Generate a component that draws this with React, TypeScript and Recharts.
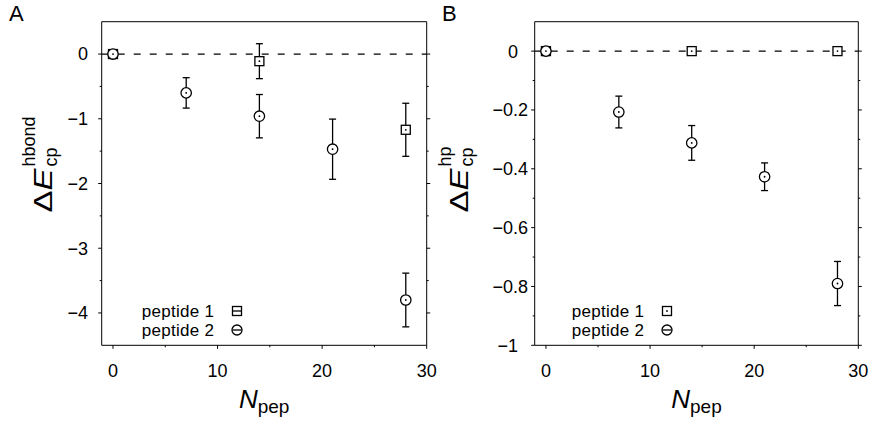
import React from 'react';
import { ScatterChart, Scatter, XAxis, YAxis, ErrorBar, ReferenceLine, Legend } from 'recharts';

// ---------- data ----------
const seriesNames = ['peptide 1', 'peptide 2'];
const nPep1 = [0, 14, 28];
const nPep2 = [0, 7, 14, 21, 28];

const hbondPep1 = [0, -0.11, -1.17];
const hbondPep1Err = [0, 0.27, 0.41];
const hbondPep2 = [0, -0.6, -0.96, -1.47, -3.8];
const hbondPep2Err = [0, 0.235, 0.335, 0.465, 0.415];

const hpPep1 = [0, 0, 0];
const hpPep1Err = [0, 0, 0];
const hpPep2 = [0, -0.207, -0.312, -0.427, -0.79];
const hpPep2Err = [0, 0.054, 0.059, 0.047, 0.075];

const xMajorTicks = [0, 10, 20, 30];
const xMinorTicks = [5, 15, 25];
const hbondMajorTicks = [0, -1, -2, -3, -4];
const hbondMinorTicks = [-0.5, -1.5, -2.5, -3.5];
const hpMajorTicks = [0, -0.2, -0.4, -0.6, -0.8, -1];
const hpMinorTicks = [-0.1, -0.3, -0.5, -0.7, -0.9];

// ---------- style ----------
const FONT = '"Liberation Sans", Arial, Helvetica, sans-serif';
const TICK_FS = 18;
const LEGEND_FS = 17;
const LW = 1.3;
const X_DOMAIN: [number, number] = [-1.08, 30];
const H = 425;
const PLOT_TOP = 21.7;
const PLOT_BOTTOM = 345.3;

const isIn = (arr: number[], v: number) => arr.some((m) => Math.abs(m - v) < 1e-9);
const fmt = (v: number) => (Math.abs(v) < 1e-12 ? '0' : (v < 0 ? '\u2212' : '') + String(Math.abs(v)));

const toRows = (xs: number[], ys: number[], es: number[]) => xs.map((x, i) => ({ x, y: ys[i], err: es[i] }));

type Orient = 'left' | 'right' | 'top' | 'bottom';

const makeTick = (orient: Orient, majors: number[], showLabel: boolean, labelGap: number, intExtra = 0) =>
  (props: any) => {
    const { x, y, payload } = props;
    const v = payload.value;
    const major = isIn(majors, v);
    const len = major ? 3.5 : 2;
    let line: any;
    let label: any = null;
    if (orient === 'left') {
      line = <line x1={x - len} y1={y} x2={x} y2={y} stroke="#000" strokeWidth={1} />;
      if (showLabel && major) {
        const extra = Number.isInteger(v) ? intExtra : 0;
        label = (
          <text x={x - labelGap - extra} y={y + 6.4} textAnchor="end" fontSize={TICK_FS} fontFamily={FONT} fill="#000">
            {fmt(v)}
          </text>
        );
      }
    } else if (orient === 'right') {
      line = <line x1={x} y1={y} x2={x + len} y2={y} stroke="#000" strokeWidth={1} />;
    } else if (orient === 'top') {
      line = <line x1={x} y1={y - len} x2={x} y2={y} stroke="#000" strokeWidth={1} />;
    } else {
      line = <line x1={x} y1={y} x2={x} y2={y + len} stroke="#000" strokeWidth={1} />;
      if (showLabel && major) {
        label = (
          <text x={x} y={y + 31.7} textAnchor="middle" fontSize={TICK_FS} fontFamily={FONT} fill="#000">
            {fmt(v)}
          </text>
        );
      }
    }
    return (
      <g>
        {line}
        {label}
      </g>
    );
  };

const SquareShape = (props: any) => {
  const { cx, cy } = props;
  if (cx == null || cy == null) return <g />;
  return (
    <g>
      <rect x={cx - 4.5} y={cy - 4.5} width={9} height={9} fill="#fff" stroke="#000" strokeWidth={LW} />
      <circle cx={cx} cy={cy} r={0.9} fill="#000" />
    </g>
  );
};

const CircleShape = (props: any) => {
  const { cx, cy } = props;
  if (cx == null || cy == null) return <g />;
  return (
    <g>
      <circle cx={cx} cy={cy} r={5.2} fill="#fff" stroke="#000" strokeWidth={LW} />
      <circle cx={cx} cy={cy} r={0.9} fill="#000" />
    </g>
  );
};

const LegendSymbol = ({ kind, withLine }: { kind: 'square' | 'circle'; withLine: boolean }) => (
  <svg width={14} height={14} style={{ display: 'block' }}>
    {kind === 'square' ? (
      <rect x={2.5} y={2.5} width={9} height={9} fill="#fff" stroke="#000" strokeWidth={LW} />
    ) : (
      <circle cx={7} cy={7} r={5} fill="#fff" stroke="#000" strokeWidth={LW} />
    )}
    {withLine ? (
      <line x1={2.5} y1={7} x2={11.5} y2={7} stroke="#000" strokeWidth={LW} />
    ) : (
      <circle cx={7} cy={7} r={0.9} fill="#000" />
    )}
  </svg>
);

type PanelCfg = {
  letter: string;
  sup: string;
  p1: number[];
  p1Err: number[];
  p2: number[];
  p2Err: number[];
  yDomain: [number, number];
  yMajor: number[];
  yMinor: number[];
  left: number;
  width: number;
  plotLeft: number;
  rightW: number;
  yLabelOffset: number;
  tickLabelGap: number;
  intExtra: number;
  legendLeft: number;
  squareLine: boolean;
  letterX: number;
};

const Panel = ({ cfg }: { cfg: PanelCfg }) => {
  const d1 = toRows(nPep1, cfg.p1, cfg.p1Err);
  const d2 = toRows(nPep2, cfg.p2, cfg.p2Err);
  const xTicks = [...xMajorTicks, ...xMinorTicks].sort((a, b) => a - b);
  const yTicks = [...cfg.yMajor, ...cfg.yMinor].sort((a, b) => a - b);

  const yLabel = (props: any) => {
    const vb = props.viewBox || {};
    const bx = vb.x + vb.width - cfg.yLabelOffset;
    const by = 212.5;
    const w = 46;
    return (
      <g transform={`translate(${bx},${by}) rotate(-90)`}>
        <text x={0} y={0} fontSize={25} fontFamily={FONT} fill="#000" textLength={44} lengthAdjust="spacingAndGlyphs">
          <tspan>Δ</tspan>
          <tspan fontStyle="italic">E</tspan>
        </text>
        <text x={w} y={4.5} fontSize={18} fontFamily={FONT} fill="#000">cp</text>
        <text x={w} y={-17} fontSize={18} fontFamily={FONT} fill="#000">{cfg.sup}</text>
      </g>
    );
  };

  const xLabel = (props: any) => {
    const vb = props.viewBox || {};
    const cx = vb.x + vb.width / 2;
    const by = vb.y + 62.7;
    return (
      <text x={cx} y={by} textAnchor="middle" fontFamily={FONT} fill="#000">
        <tspan fontSize={26} fontStyle="italic">N</tspan>
        <tspan fontSize={19} dy={5}>pep</tspan>
      </text>
    );
  };

  const legendContent = () => (
    <div style={{ fontFamily: FONT, fontSize: LEGEND_FS, color: '#000' }}>
      {seriesNames.map((n, i) => (
        <div key={n} style={{ display: 'flex', alignItems: 'center', height: 19, whiteSpace: 'nowrap' }}>
          <span style={{ width: 88, display: 'inline-block', lineHeight: '19px', letterSpacing: '0.3px' }}>{n}</span>
          <LegendSymbol kind={i === 0 ? 'square' : 'circle'} withLine={i === 1 || cfg.squareLine} />
        </div>
      ))}
    </div>
  );

  return (
    <div style={{ position: 'absolute', left: cfg.left, top: 0, width: cfg.width, height: H }}>
      <div
        style={{
          position: 'absolute',
          left: cfg.letterX,
          top: 0,
          fontFamily: FONT,
          fontSize: 22,
          lineHeight: '28px',
          color: '#000',
        }}
      >
        {cfg.letter}
      </div>
      <ScatterChart width={cfg.width} height={H} margin={{ top: 0, right: 0, bottom: 0, left: 0 }}>
        <XAxis
          xAxisId="b"
          dataKey="x"
          type="number"
          orientation="bottom"
          domain={X_DOMAIN}
          allowDataOverflow
          ticks={xTicks}
          interval={0}
          height={H - PLOT_BOTTOM}
          axisLine={{ stroke: '#000', strokeWidth: 1 }}
          tickLine={false}
          tickSize={0}
          tickMargin={0}
          tick={makeTick('bottom', xMajorTicks, true, 0)}
          label={xLabel}
        />
        <XAxis
          xAxisId="t"
          type="number"
          orientation="top"
          domain={X_DOMAIN}
          allowDataOverflow
          ticks={xTicks}
          interval={0}
          height={PLOT_TOP}
          axisLine={{ stroke: '#000', strokeWidth: 1 }}
          tickLine={false}
          tickSize={0}
          tickMargin={0}
          tick={makeTick('top', xMajorTicks, false, 0)}
        />
        <YAxis
          yAxisId="l"
          dataKey="y"
          type="number"
          orientation="left"
          domain={cfg.yDomain}
          allowDataOverflow
          ticks={yTicks}
          interval={0}
          width={cfg.plotLeft}
          axisLine={{ stroke: '#000', strokeWidth: 1 }}
          tickLine={false}
          tickSize={0}
          tickMargin={0}
          tick={makeTick('left', cfg.yMajor, true, cfg.tickLabelGap, cfg.intExtra)}
          label={yLabel}
        />
        <YAxis
          yAxisId="r"
          type="number"
          orientation="right"
          domain={cfg.yDomain}
          allowDataOverflow
          ticks={yTicks}
          interval={0}
          width={cfg.rightW}
          axisLine={{ stroke: '#000', strokeWidth: 1 }}
          tickLine={false}
          tickSize={0}
          tickMargin={0}
          tick={makeTick('right', cfg.yMajor, false, 0)}
        />
        <ReferenceLine
          y={0}
          xAxisId="b"
          yAxisId="l"
          stroke="#000"
          strokeWidth={1.2}
          strokeDasharray="7 9"
        />
        <Scatter
          name={seriesNames[0]}
          data={d1}
          xAxisId="b"
          yAxisId="l"
          shape={SquareShape}
          isAnimationActive={false}
        >
          <ErrorBar dataKey="err" direction="y" width={3.5} stroke="#000" strokeWidth={LW} />
        </Scatter>
        <Scatter
          name={seriesNames[1]}
          data={d2}
          xAxisId="b"
          yAxisId="l"
          shape={CircleShape}
          isAnimationActive={false}
        >
          <ErrorBar dataKey="err" direction="y" width={3.5} stroke="#000" strokeWidth={LW} />
        </Scatter>
        <Legend
          layout="vertical"
          align="center"
          verticalAlign="middle"
          content={legendContent}
          wrapperStyle={{ left: cfg.legendLeft, top: 301.5, width: 120, bottom: 'auto', right: 'auto' }}
        />
      </ScatterChart>
    </div>
  );
};

const panelA: PanelCfg = {
  letter: 'A',
  sup: 'hbond',
  p1: hbondPep1,
  p1Err: hbondPep1Err,
  p2: hbondPep2,
  p2Err: hbondPep2Err,
  yDomain: [-4.5, 0.5],
  yMajor: hbondMajorTicks,
  yMinor: hbondMinorTicks,
  left: 0,
  width: 445,
  plotLeft: 101.7,
  rightW: 445 - 426.7,
  yLabelOffset: 49.7,
  tickLabelGap: 13.7,
  intExtra: 0,
  legendLeft: 141.7,
  squareLine: true,
  letterX: 9,
};

const B_LEFT = 425;
const panelB: PanelCfg = {
  letter: 'B',
  sup: 'hp',
  p1: hpPep1,
  p1Err: hpPep1Err,
  p2: hpPep2,
  p2Err: hpPep2Err,
  yDomain: [-1, 0.1],
  yMajor: hpMajorTicks,
  yMinor: hpMinorTicks,
  left: B_LEFT,
  width: 874 - B_LEFT,
  plotLeft: 534.7 - B_LEFT,
  rightW: 874 - 858.3,
  yLabelOffset: 66.7,
  tickLabelGap: 6.7,
  intExtra: 10,
  legendLeft: 571.7 - B_LEFT,
  squareLine: false,
  letterX: 442 - B_LEFT,
};

export default function App() {
  return (
    <div style={{ position: 'absolute', left: 0, top: 0, width: 874, height: H, background: '#fff', overflow: 'hidden' }}>
      <Panel cfg={panelA} />
      <Panel cfg={panelB} />
    </div>
  );
}
